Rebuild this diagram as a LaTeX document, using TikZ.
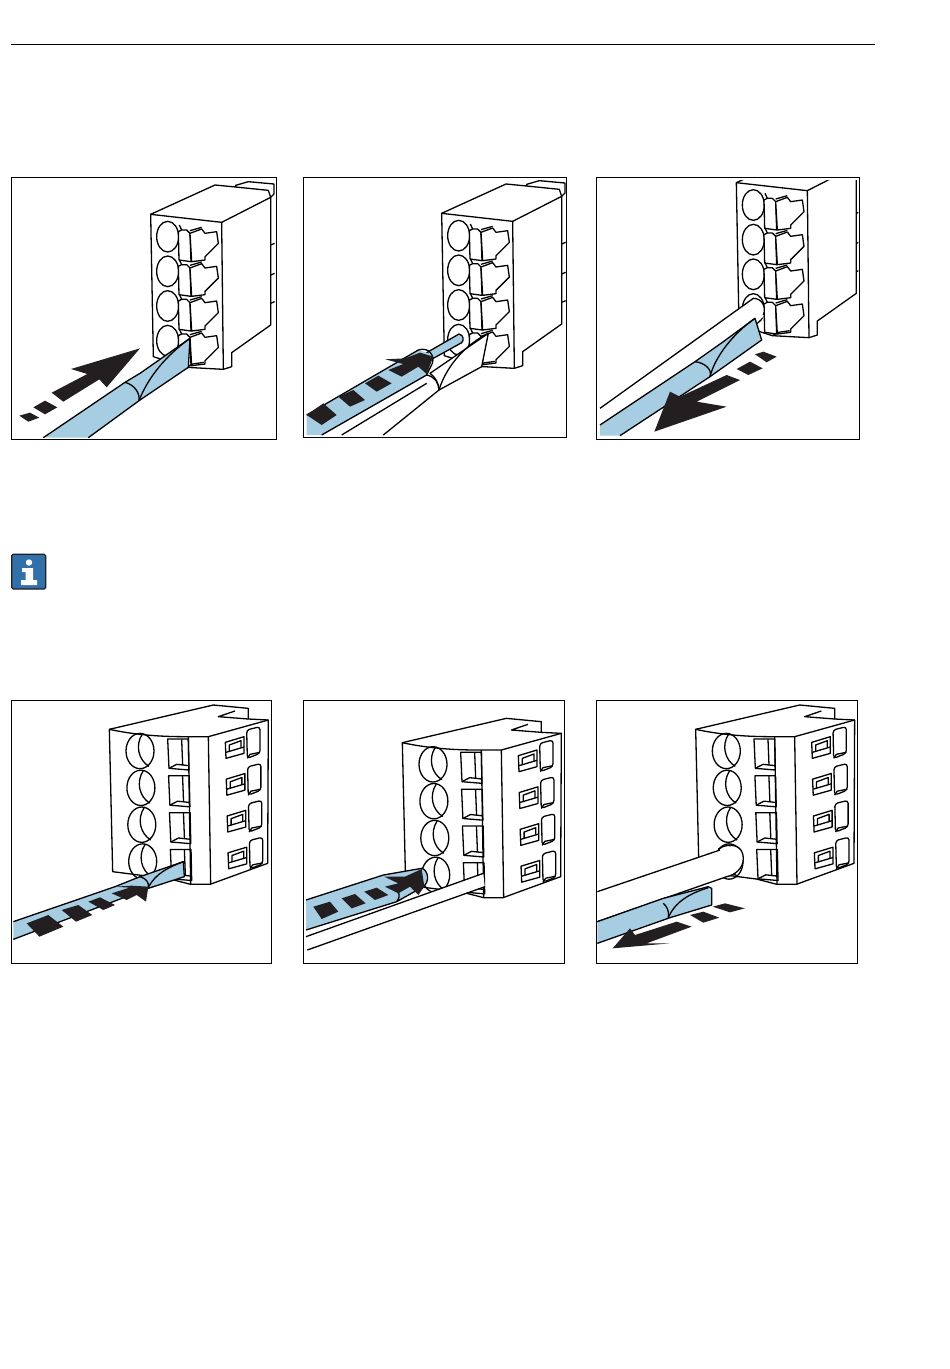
\documentclass[tikz,border=0pt]{standalone}
\definecolor{toolblue}{RGB}{166,205,226}
\definecolor{inkblack}{RGB}{35,31,32}
\definecolor{infoblue}{RGB}{50,112,170}
\tikzset{
  frame/.style={draw=black, line width=0.9pt},
  wire/.style={draw=black, line width=1.3pt, line join=round},
  blank/.style={wire, fill=white},
  flatblack/.style={fill=inkblack, draw=none},
}
% terminal block seen from the clip side, in the crop units of the first panel
\newcommand{\clipblock}{
  \draw[blank] (452,133) -- (645,45) -- (707,51) -- (707,46) -- (745,35) -- (822,42) -- (822,72) -- (812,82) -- (812,465) -- (695,548) -- (695,590) -- (670,598) -- (560,592) -- (460,560) -- cycle;
  \draw[wire] (452,133) -- (665,157) -- (670,598);
  \draw[wire] (665,157) -- (812,82);
  \draw[wire] (707,51) -- (805,61) -- (812,82);
  \draw[wire] (812,225) -- (824,220);
  \draw[wire] (812,315) -- (824,310);
  \draw[wire] (812,400) -- (824,395);
  \foreach \row in {0,1,2,3} {
    \begin{scope}[shift={(0,\row*104)}]
      \draw[wire] (503,200) circle [x radius=33, y radius=46];
      \draw[wire] (538,165) -- (545,180);
      \draw[blank] (535,185) -- (545,180) -- (560,180) -- (570,190) -- (573,275) -- (537,270) -- cycle;
      \draw[blank] (570,190) -- (605,177) -- (615,190) -- (650,185) -- (655,220) -- (615,260) -- (615,270) -- (575,275) -- cycle;
      \draw[wire] (570,182) -- (605,172);
    \end{scope}
  }
  \draw[wire] (560,592) -- (578,582) -- (612,577);
}
% terminal block seen from the screw side, in the crop units of the fourth panel
\newcommand{\screwblock}{
  \draw[blank] (328,103) -- (640,30) -- (745,40) -- (745,72) -- (805,75) -- (803,505) -- (630,568) -- (572,568) -- (510,552) -- (338,530) -- cycle;
  \draw[wire] (328,103) .. controls (430,125) and (520,125) .. (565,125) -- (625,125) -- (805,75);
  \draw[wire] (565,125) -- (572,568);
  \draw[wire] (625,125) -- (632,568);
  \draw[wire] (745,72) -- (655,65) -- (705,48);
  \foreach \row in {0,1,2,3} {
    \begin{scope}[shift={(\row*2.7,\row*110.5)}]
      \draw[wire] (420,168) circle [x radius=42, y radius=53];
      \draw[wire] (427,117) .. controls (405,150) and (415,195) .. (447,214);
      \draw[wire] (503,132) -- (565,132) -- (567,225) -- (507,220) -- cycle;
      \draw[wire] (545,133) -- (548,210);
      \draw[wire] (507,220) -- (530,208) -- (567,212);
      \draw[wire] (676,142) -- (732,125) -- (732,175) -- (678,190) -- cycle;
      \draw[wire] (688,170) -- (688,150) -- (723,137) -- (723,158);
      \draw[wire] (678,172) -- (732,156);
      \draw[wire, rounded corners=3pt] (740,105) -- (780,95) -- (780,175) -- (742,190) -- cycle;
      \draw[wire] (742,190) -- (750,178) -- (780,172);
    \end{scope}
  }
}
\begin{document}
\begin{tikzpicture}[x=1pt, y=-1pt]
  \useasboundingbox (0,0) rectangle (950,1369);
  \draw[line width=0.6pt] (11,44) -- (875,44);

  % first row: the clip is opened, the wire goes in, the tool comes out
  \draw[frame] (11,177) rectangle (276,439);
  \begin{scope}[shift={(0,170)}, scale=1/3]
    \begin{scope}
      \clip (38,23) rectangle (825,802);
      \clipblock
    \end{scope}
    \fill[toolblue] (130,803) -- (375,637) -- (420,610) -- (570,505) -- (565,592) -- (420,690) -- (265,803) -- cycle;
    \draw[wire] (130,803) -- (375,637) -- (420,610) -- (570,505) -- (565,592) -- (420,690) -- (265,803);
    \draw[wire] (375,637) .. controls (405,645) and (420,670) .. (417,692);
    \draw[wire] (417,692) .. controls (445,620) and (500,555) .. (570,505);
    \fill[flatblack] (420,535) -- (320,652) -- (298,628) -- (190,695) -- (155,668) -- (262,612) -- (213,597) -- cycle;
    \fill[flatblack] (100,712) -- (135,692) -- (172,712) -- (135,733) -- cycle;
    \fill[flatblack] (58,737) -- (90,728) -- (118,743) -- (85,755) -- cycle;
  \end{scope}

  \draw[frame] (303,177) rectangle (566,437);
  \begin{scope}[shift={(295,170)}, scale=1/3]
    \begin{scope}[shift={(-12,-3)}]
      \clip (38,25) rectangle (825,802);
      \clipblock
    \end{scope}
    \draw[wire, fill=toolblue] (395,548) -- (492,492) .. controls (507,495) and (507,512) .. (500,518) -- (415,565) -- cycle;
    \fill[toolblue] (35,735) -- (370,540) -- (415,555) -- (395,615) -- (80,795) -- (35,795) -- cycle;
    \draw[wire] (35,735) -- (370,540) .. controls (400,530) and (420,555) .. (412,580) -- (395,615);
    \fill[white] (80,795) -- (395,615) -- (432,660) -- (265,795) -- cycle;
    \draw[wire] (80,795) -- (395,615) .. controls (420,620) and (432,640) .. (432,660) -- (265,795);
    \draw[blank] (432,660) .. controls (432,640) and (420,620) .. (405,610) -- (580,490) -- (560,590) -- cycle;
    \draw[wire] (140,795) -- (395,640);
    \draw[wire] (432,660) .. controls (450,600) and (500,530) .. (580,490);
    \fill[flatblack] (35,735) -- (85,700) -- (125,735) -- (80,765) -- cycle;
    \fill[flatblack] (130,680) -- (175,660) -- (210,690) -- (165,710) -- cycle;
    \fill[flatblack] (210,640) -- (250,617) -- (290,640) -- (245,665) -- cycle;
    \fill[flatblack] (270,568) -- (330,565) -- (375,548) -- (415,560) -- (395,612) -- (370,590) -- (320,620) -- (280,600) -- (325,582) -- cycle;
  \end{scope}

  \draw[frame] (596,177) rectangle (859,439);
  \begin{scope}[shift={(590,170)}, scale=1/3]
    \begin{scope}
      \clip (30,30) rectangle (805,802);
      \begin{scope}[shift={(-13,-95)}]
        \clipblock
      \end{scope}
    \end{scope}
    \fill[white] (30,715) -- (490,385) .. controls (515,385) and (530,410) .. (520,440) -- (300,620) -- (30,797) -- cycle;
    \draw[wire] (30,715) -- (490,385) .. controls (515,385) and (530,410) .. (520,435);
    \fill[toolblue] (30,765) -- (315,575) -- (400,515) -- (495,445) -- (515,510) -- (360,620) -- (90,797) -- (30,797) -- cycle;
    \draw[wire] (30,765) -- (315,575) -- (400,515) -- (495,445) -- (515,510) -- (360,620) -- (90,797);
    \draw[wire] (315,575) .. controls (345,578) and (368,600) .. (360,620);
    \draw[wire] (360,620) .. controls (375,560) and (430,490) .. (495,445);
    \fill[flatblack] (193,785) -- (240,665) -- (270,680) -- (410,615) -- (450,630) -- (320,695) -- (410,710) -- cycle;
    \fill[flatblack] (440,597) -- (480,575) -- (518,595) -- (475,615) -- cycle;
    \fill[flatblack] (495,553) -- (520,545) -- (560,560) -- (530,577) -- cycle;
  \end{scope}

  % info mark
  \draw[draw=inkblack, fill=infoblue, line width=1.2pt, rounded corners=1.5pt] (11.7,554.3) rectangle (45.7,589);
  \fill[white] (29,562.5) circle (3.2pt);
  \fill[white] (22,568) -- (33,568) -- (33,580) -- (37,580) -- (37,585) -- (21,585) -- (21,580) -- (25.5,580) -- (25.5,572) -- (22,572) -- cycle;

  % second row: the same three steps on the screw side
  \draw[frame] (11,700) rectangle (271,963);
  \begin{scope}[shift={(0,695)}, scale=1/3]
    \screwblock
    \fill[toolblue] (40,680) -- (345,575) -- (420,545) -- (550,500) -- (553,545) -- (445,580) -- (40,733) -- cycle;
    \draw[wire] (40,680) -- (345,575) -- (420,545) -- (550,500) -- (553,545) -- (445,580) -- (40,733);
    \draw[wire] (420,545) .. controls (438,550) and (448,562) .. (445,578);
    \draw[wire] (445,578) .. controls (465,535) and (510,515) .. (550,500);
    \fill[flatblack] (345,575) -- (395,572) -- (445,575) -- (438,620) -- (410,600) -- (380,615) -- (335,595) -- (388,578) -- cycle;
    \fill[flatblack] (80,685) -- (145,660) -- (190,695) -- (118,725) -- cycle;
    \fill[flatblack] (185,645) -- (235,630) -- (277,660) -- (228,680) -- cycle;
    \fill[flatblack] (265,620) -- (300,607) -- (345,630) -- (310,645) -- cycle;
  \end{scope}

  \draw[frame] (303,700) rectangle (564,963);
  \begin{scope}[shift={(295,695)}, scale=1/3]
    \begin{scope}[shift={(-6,40)}]
      \screwblock
    \end{scope}
    \fill[toolblue] (33,615) -- (265,540) -- (380,520) .. controls (400,525) and (405,560) .. (385,575) -- (305,620) -- (33,705) -- cycle;
    \draw[wire] (33,615) -- (265,540) -- (380,520) .. controls (400,525) and (405,560) .. (385,575) -- (305,620) -- (33,705);
    \fill[white] (33,726) -- (565,536) -- (569,574) -- (37,764) -- cycle;
    \draw[wire] (33,725) -- (565,535);
    \draw[wire] (37,765) -- (570,575);
    \draw[wire] (305,620) .. controls (320,600) and (310,590) .. (300,585);
    \fill[flatblack] (55,635) -- (105,620) -- (130,650) -- (80,672) -- cycle;
    \fill[flatblack] (140,610) -- (180,597) -- (212,625) -- (170,640) -- cycle;
    \fill[flatblack] (208,590) -- (245,578) -- (280,600) -- (240,615) -- cycle;
    \fill[flatblack] (268,545) -- (330,545) -- (380,522) -- (388,575) -- (370,600) -- (345,575) -- (310,595) -- (270,575) -- (310,565) -- cycle;
  \end{scope}

  \draw[frame] (596,700) rectangle (857,963);
  \begin{scope}[shift={(590,695)}, scale=1/3]
    \begin{scope}[shift={(-11,0)}]
      \screwblock
    \end{scope}
    \fill[white] (22,590) -- (390,465) .. controls (420,445) and (460,450) .. (460,490) .. controls (460,520) and (435,540) .. (410,545) -- (22,680) -- cycle;
    \draw[wire] (22,590) -- (390,465);
    \draw[wire] (385,462) .. controls (420,440) and (460,450) .. (460,490) .. controls (460,520) and (435,540) .. (410,545) -- (22,680);
    \fill[toolblue] (22,680) -- (220,610) -- (355,575) -- (365,580) -- (365,630) -- (240,668) -- (22,745) -- cycle;
    \draw[wire] (22,680) -- (220,610) -- (355,575) -- (365,580) -- (365,630) -- (240,668) -- (22,745);
    \draw[wire] (220,625) .. controls (232,635) and (238,650) .. (235,668);
    \draw[wire] (235,668) .. controls (255,620) and (300,595) .. (355,578);
    \fill[flatblack] (68,760) -- (120,700) -- (135,720) -- (260,680) -- (305,695) -- (170,745) -- (240,745) -- cycle;
    \fill[flatblack] (300,660) -- (340,650) -- (388,668) -- (340,683) -- cycle;
    \fill[flatblack] (368,635) -- (405,625) -- (465,640) -- (420,652) -- cycle;
  \end{scope}
\end{tikzpicture}
\end{document}
